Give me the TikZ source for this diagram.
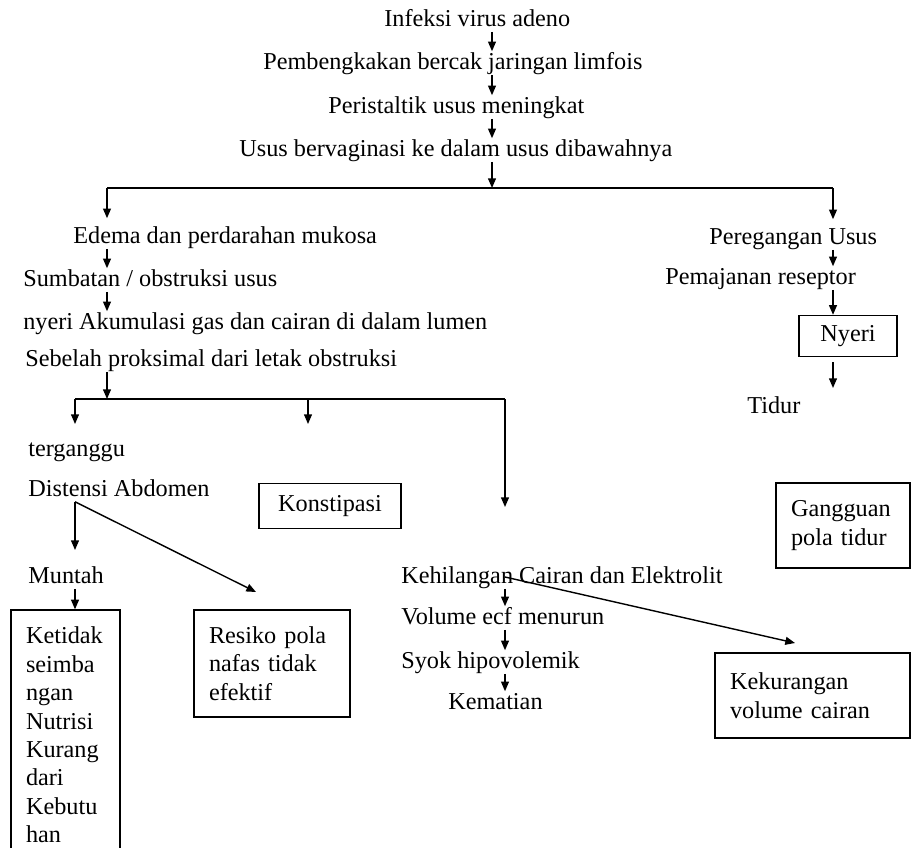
\documentclass[tikz,border=0pt]{standalone}
\usepackage{fontspec}
\setmainfont{Liberation Serif}
\usetikzlibrary{arrows.meta, positioning, calc}

\begin{document}
\begin{tikzpicture}[
  x=0.02cm, y=-0.02cm,
  font=\fontsize{13.8}{16.2}\selectfont,
  arrow/.style={-{Triangle[length=5.5pt, width=4.5pt]}, line width=0.8pt},
  link/.style={line width=0.8pt},
  txt/.style={anchor=west, inner sep=0pt, text height=10pt, text depth=3pt},
  box/.style={draw, line width=0.8pt, inner sep=0pt, inner xsep=0.3cm, align=left}
]
  \useasboundingbox (0,0) rectangle (913,848);

  % columns the arrows run along
  \coordinate (spine) at (492,0);
  \coordinate (colL) at (107,0);
  \coordinate (colR) at (833,0);
  \coordinate (colA) at (75,0);
  \coordinate (colC) at (505,0);

  % main chain
  \node[txt] (infeksi) at (384,20) {Infeksi virus adeno};
  \node[txt] (bengkak) at (263,63) {Pembengkakan bercak jaringan limfois};
  \node[txt] (peristaltik) at (328,107) {Peristaltik usus meningkat};
  \node[txt] (invaginasi) at (239,150) {Usus bervaginasi ke dalam usus dibawahnya};

  % left branch
  \node[txt] (edema) at (73,237) {Edema dan perdarahan mukosa};
  \node[txt] (sumbatan) at (23,280) {Sumbatan / obstruksi usus};
  \node[txt] (akumulasi) at (23,323) {nyeri Akumulasi gas dan cairan di dalam lumen};
  \node[txt] (proksimal) at (25,360) {Sebelah proksimal dari letak obstruksi};
  \node[txt] (terganggu) at (28,450) {terganggu};
  \node[txt] (distensi) at (28,490) {Distensi Abdomen};
  \node[txt] (muntah) at (28,577) {Muntah};
  \node[box, text width=1.58cm, minimum height=5cm] (nutrisi) at (65.5,735)
    {Ketidak\\seimba\\ngan\\Nutrisi\\Kurang\\dari\\Kebutu\\han};
  \node[box, text width=2.52cm, minimum height=2.14cm] (resiko) at (272,663.5)
    {Resiko pola\\nafas tidak\\efektif};
  \node[box, align=center, minimum width=2.84cm, minimum height=0.9cm] (konstipasi) at (330,506) {Konstipasi};

  % middle
  \node[txt] (kehilangan) at (401,577) {Kehilangan Cairan dan Elektrolit};
  \node[txt] (volume) at (401,618) {Volume ecf menurun};
  \node[txt] (syok) at (401,662) {Syok hipovolemik};
  \node[txt] (kematian) at (448,703) {Kematian};
  \node[box, text width=3.3cm, minimum height=1.7cm] (kekurangan) at (812.5,695.5)
    {Kekurangan\\volume cairan};

  % right branch
  \node[txt] (regang) at (709,238) {Peregangan Usus};
  \node[txt] (pajan) at (665,278) {Pemajanan reseptor};
  \node[box, align=center, minimum width=1.96cm, minimum height=0.82cm] (nyeri) at (848,336) {Nyeri};
  \node[txt] (tidur) at (747,407) {Tidur};
  \node[box, text width=2.08cm, minimum height=1.7cm] (gangguan) at (843,525.5)
    {Gangguan\\pola tidur};

  % forks and free ends
  \coordinate (fork1) at (492,188);
  \coordinate (fork1L) at (107,188);
  \coordinate (fork1R) at (833,188);
  \coordinate (fork2) at (107,399);
  \coordinate (fork2L) at (75,399);
  \coordinate (fork2M) at (308,399);
  \coordinate (fork2R) at (505,399);
  \coordinate (endL) at (75,424);
  \coordinate (endM) at (308,424);
  \coordinate (endR) at (505,507);
  \coordinate (toMuntah) at (75,550);
  \coordinate (toResiko) at (256,592);
  \coordinate (toKurang) at (795,643);
  \coordinate (toTidur) at (833,388);

  % connectors
  \draw[arrow] (infeksi.south -| spine) -- (bengkak.north -| spine);
  \draw[arrow] (bengkak.south -| spine) -- (peristaltik.north -| spine);
  \draw[arrow] (peristaltik.south -| spine) -- (invaginasi.north -| spine);
  \draw[arrow] (invaginasi.south -| spine) -- (fork1);
  \draw[link] (fork1L) -- (fork1R);
  \draw[arrow, shorten >=4pt] (fork1L) -- (edema.north -| fork1L);
  \draw[arrow, shorten >=4pt] (fork1R) -- (regang.north -| fork1R);

  \draw[arrow] (edema.south -| colL) -- (sumbatan.north -| colL);
  \draw[arrow] (sumbatan.south -| colL) -- (akumulasi.north -| colL);
  \draw[arrow] (proksimal.south -| colL) -- (fork2);
  \draw[link] (fork2L) -- (fork2R);
  \draw[arrow] (fork2L) -- (endL);
  \draw[arrow] (fork2M) -- (endM);
  \draw[arrow] (fork2R) -- (endR);

  \draw[arrow] (distensi.south -| colA) -- (toMuntah);
  \draw[arrow] (distensi.south -| colA) -- (toResiko);
  \draw[arrow] (muntah.south -| colA) -- (nutrisi.north -| colA);

  \draw[arrow] (kehilangan.south -| colC) -- (volume.north -| colC);
  \draw[arrow] (volume.south -| colC) -- (syok.north -| colC);
  \draw[arrow] (syok.south -| colC) -- (kematian.north -| colC);
  \draw[arrow] (kehilangan -| colC) -- (toKurang);

  \draw[arrow] (regang.south -| colR) -- (pajan.north -| colR);
  \draw[arrow] (pajan.south -| colR) -- (nyeri.north -| colR);
  \draw[arrow, shorten <=3pt] (nyeri.south -| colR) -- (toTidur);

\end{tikzpicture}
\end{document}
